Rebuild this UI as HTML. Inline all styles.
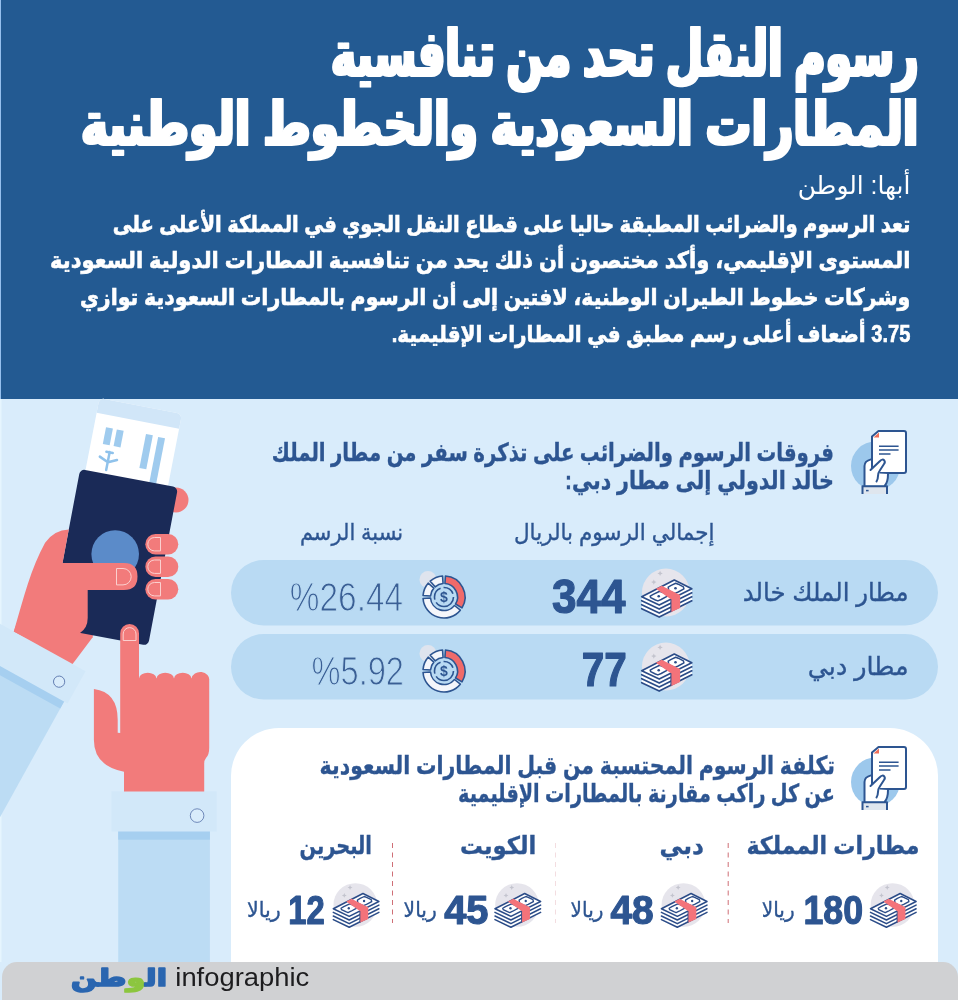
<!DOCTYPE html>
<html lang="ar">
<head>
<meta charset="utf-8">
<title>رسوم النقل تحد من تنافسية المطارات السعودية والخطوط الوطنية</title>
<style>
html,body{margin:0;padding:0;background:#d9ecfb;}
body{width:958px;height:1000px;overflow:hidden;position:relative;}
svg{position:absolute;left:0;top:0;display:block;}
text{font-family:"Liberation Sans","DejaVu Sans",sans-serif;}
.ar{direction:rtl;unicode-bidi:embed;}
.b{font-weight:bold;}
.tb{fill:#2d5591;stroke:#2d5591;stroke-width:0.35px;}
.num{font-family:"Liberation Sans","DejaVu Sans",sans-serif;font-weight:bold;fill:#2d5591;stroke:#2d5591;stroke-width:1.2px;stroke-linejoin:round;}
.thin{font-family:"Liberation Sans","DejaVu Sans",sans-serif;font-weight:normal;fill:#3a5f95;stroke:#b9daf3;stroke-width:1.1px;}
</style>
</head>
<body>
<svg width="958" height="1000" viewBox="0 0 958 1000">
<defs>
<g id="money">
  <circle cx="24.200" cy="12.600" r="24" fill="#e6e5ec"/>
  <path d="M18.400 -9.300l0.800 1.900 1.900 0.800 -1.900 0.800 -0.800 1.900 -0.800-1.900 -1.900-0.800 1.900-0.800z M12.100 -0.600l0.800 1.900 1.900 0.800 -1.900 0.800 -0.800 1.900 -0.800-1.900 -1.900-0.800 1.900-0.800z" fill="#c3c4ce"/>
  <g fill="#ffffff" stroke="#2b4c88" stroke-width="1.700" stroke-linejoin="round">
    <path d="M0 16.700L17.500 25.100V37.100L0 28.700z" stroke="none"/>
    <path d="M17.500 25.100L50.100 8.800V20.800L17.500 37.100z" stroke="none"/>
    <path d="M0 20.700L17.500 29.100L50.100 12.800M0 24.700L17.500 33.100L50.100 16.800M0 28.700L17.500 37.100L50.100 20.800" fill="none" stroke-linecap="round"/>
    <path d="M0 16.700L32.600 0L50.100 8.800L17.500 25.100z"/>
    <path d="M8.500 16.200L11.500 14.400L18 11.300L20.500 12.200L24.700 14.300L25.200 16.400L19.500 19.500L16.200 20.900L13.700 20L9 17.700z" stroke-width="1.500"/>
    <path d="M26.500 7.200L29.500 5.400L34 3.300L36.500 4.200L41.700 6.800L42.200 8.900L36.500 12L33.200 13.400L30.700 12.500L27 10.700z" stroke-width="1.500"/>
  </g>
  <circle cx="17" cy="16.200" r="1.300" fill="#2b4c88"/>
  <circle cx="33.800" cy="8.300" r="1.300" fill="#2b4c88"/>
  <path d="M14.200 8.800L20 5.800L38.400 15V28L29.200 32.200V19.200z" fill="#f4737a"/>
  <path d="M29.200 19.200V32.200" stroke="#2b4c88" stroke-width="1" fill="none"/>
</g>
<g id="pie">
  <circle cx="-16" cy="-17.500" r="8.500" fill="#dfe4ee"/>
  <g stroke="#2d5591" stroke-width="1.600" stroke-linejoin="round">
    <path d="M1.46 -20.95A21 21 0 0 1 18.00 10.82L11.57 6.95A13.5 13.5 0 0 0 0.94 -13.47z" fill="#f06a6a"/>
    <path d="M16.32 13.22A21 21 0 0 1 -20.95 1.46L-13.47 0.94A13.5 13.5 0 0 0 10.49 8.50z" fill="#f4f6fb"/>
    <path d="M-20.95 -1.46A21 21 0 0 1 -15.85 -13.78L-10.19 -8.86A13.5 13.5 0 0 0 -13.47 -0.94z" fill="#f4f6fb"/>
    <path d="M-13.78 -15.85A21 21 0 0 1 -1.46 -20.95L-0.94 -13.47A13.5 13.5 0 0 0 -8.86 -10.19z" fill="#f4f6fb"/>
    <circle r="9.500" fill="none" stroke-dasharray="24 3 14 3 12 3.700"/>
  </g>
  <text x="0" y="5" font-size="14" font-weight="bold" text-anchor="middle" fill="#2d5591" style="font-family:'Liberation Sans',sans-serif">$</text>
</g>
<g id="doc">
  <circle cx="37.500" cy="56" r="24.500" fill="#9cc8ec"/>
  <path d="M34 59.500V26.500L40.500 21H66a2 2 0 0 1 2 2V61a2 2 0 0 1 -2 2H36a2 2 0 0 1 -2-2z" fill="#ffffff" stroke="#2d5591" stroke-width="2" stroke-linejoin="round"/>
  <path d="M35.500 27.500L41 22.500V27.500z" fill="#f0705a"/>
  <path d="M41 36.300H60.600M41 40H60.600M41 44H52.500" stroke="#2d5591" stroke-width="1.500" fill="none"/>
  <path d="M26.500 75.500V56Q26.500 51 33 49.400V59.500L42 51Q44.500 48.500 46.300 50.500Q47.500 52 46 54L41.500 61V63.500L50 64Q50 72 46.900 75.500z" fill="#ffffff"/>
  <path d="M26.500 75.500V56Q26.500 51 33 49.400M32.500 60L42 51Q44.500 48.500 46.300 50.500Q47.500 52 46 54L41.500 61Q40 63 40 66Q40 69 38.500 71.500M50 64Q50 72 46.900 75.500" fill="none" stroke="#2d5591" stroke-width="2" stroke-linecap="round" stroke-linejoin="round"/>
  <path d="M24.500 84V76.300H49V84" fill="#dfe6ee" stroke="#2d5591" stroke-width="2" stroke-linejoin="round"/>
  <path d="M28 80.600H30.600" stroke="#2d5591" stroke-width="1.500"/>
</g>
<filter id="fatx" x="-2%" y="-10%" width="104%" height="120%"><feMorphology operator="dilate" radius="1 0"/></filter>
</defs>
<!-- backgrounds -->
<rect x="0" y="0" width="958" height="1000" fill="#d9ecfb"/>
<rect x="0" y="0" width="958" height="399" fill="#235a92"/>
<rect x="0" y="0" width="1" height="399" fill="#96c0ee"/>
<rect x="0" y="399" width="1.500" height="563" fill="#e6f5fe"/>

<!-- HEADER TEXT -->
<g id="header" fill="#ffffff">
<text class="ar b" x="918.500" y="75.500" font-size="64" textLength="587.500" lengthAdjust="spacingAndGlyphs" stroke="#ffffff" stroke-width="1.800" stroke-linejoin="round" filter="url(#fatx)">رسوم النقل تحد من تنافسية</text>
<text class="ar b" x="918.500" y="144.500" font-size="61" textLength="837.500" lengthAdjust="spacingAndGlyphs" stroke="#ffffff" stroke-width="1.800" stroke-linejoin="round" filter="url(#fatx)">المطارات السعودية والخطوط الوطنية</text>
<text class="ar" x="910.400" y="193.800" font-size="25" textLength="112.700" lengthAdjust="spacingAndGlyphs">أبها: الوطن</text>
<g stroke="#ffffff" stroke-width="0.6">
<text class="ar b" x="910.400" y="231.500" font-size="23" textLength="797.700" lengthAdjust="spacingAndGlyphs">تعد الرسوم والضرائب المطبقة حاليا على قطاع النقل الجوي في المملكة الأعلى على</text>
<text class="ar b" x="910.400" y="268" font-size="23" textLength="860.400" lengthAdjust="spacingAndGlyphs">المستوى الإقليمي، وأكد مختصون أن ذلك يحد من تنافسية المطارات الدولية السعودية</text>
<text class="ar b" x="910.400" y="305" font-size="23" textLength="830.400" lengthAdjust="spacingAndGlyphs">وشركات خطوط الطيران الوطنية، لافتين إلى أن الرسوم بالمطارات السعودية توازي</text>
<text class="ar b" x="910.400" y="341.600" font-size="23" textLength="518.700" lengthAdjust="spacingAndGlyphs">3.75 أضعاف أعلى رسم مطبق في المطارات الإقليمية.</text>
</g>
</g>
<!--HANDS-->
<g id="hands">
<!-- left sleeve -->
<g transform="translate(13.8,631.4) rotate(29)">
  <!-- local coords: x along wrist edge (to the right-down), y pointing down-left along the arm -->
  <rect x="-14" y="36" width="92" height="400" fill="#bcdcf4"/>
  <rect x="-14" y="36" width="92" height="9" fill="#a6cff0"/>
  <rect x="-30" y="0" width="112" height="37" fill="#d2e8f9"/>
  <circle cx="64" cy="22" r="5.6" fill="#d9ecfb" stroke="#5470a8" stroke-width="0.8"/>
</g>
<!-- ticket -->
<g transform="translate(99.500,398) rotate(11)">
  <rect x="0" y="0" width="84" height="90" rx="5" fill="#ffffff"/>
  <path d="M0 15V5a5 5 0 0 1 5-5h74a5 5 0 0 1 5 5v10z" fill="#d1e6f8"/>
  <rect x="12" y="27.500" width="7" height="17" fill="#9fcbee"/>
  <rect x="23" y="27.500" width="7" height="17" fill="#9fcbee"/>
  <rect x="52.500" y="26.500" width="7" height="34.500" fill="#9fcbee"/>
  <rect x="65" y="27" width="7" height="50" fill="#9fcbee"/>
  <path d="M20.300 51v18.500M20.500 61.500l-9-4M20.500 61.500l8.500-4M17 51.500h6.500" stroke="#8fc2eb" stroke-width="2.500" fill="none" stroke-linecap="round"/>
</g>
<!-- index fingertip behind passport (top right) -->
<circle cx="176" cy="500" r="12.5" fill="#f27b7b"/>
<!-- palm behind passport -->
<path d="M13.800 631.400L72.600 664.100L92.700 637.300L96 600L40 560Z" fill="#f27b7b"/>
<!-- passport -->
<g transform="translate(80.2,469) rotate(10.7)">
  <rect x="0" y="0" width="99.5" height="161" rx="5" fill="#1a2a57"/>
</g>
<circle cx="115.2" cy="554.1" r="23.8" fill="#5b8bc9"/>
<!-- left hand -->
<path d="M68.800 529.500L62.600 563L124 563Q137.500 563 137.500 576.500Q137.500 590 124 590L87.700 590L87.700 618Q87.700 628 79.700 633.300L60 655L13.800 631.400C24 597 31 568 45.100 542.800Q54 530 68.800 529.500Z" fill="#f27b7b"/>
<path d="M116.5 568.5h6.5a8.2 8.2 0 0 1 0 16.4h-6.5z" fill="none" stroke="#fbd0cf" stroke-width="1"/>
<!-- fingers right of passport -->
<rect x="145.3" y="534" width="33" height="20.5" rx="10.2" fill="#f27b7b"/>
<rect x="145.3" y="556.5" width="33" height="20.5" rx="10.2" fill="#f27b7b"/>
<rect x="145.3" y="579" width="33" height="20.5" rx="10.2" fill="#f27b7b"/>
<path d="M160.500 537.5h-6a6.700 6.700 0 0 0 0 13.400h6z" fill="none" stroke="#fbd0cf" stroke-width="1"/>
<path d="M160.500 560h-6a6.700 6.700 0 0 0 0 13.400h6z" fill="none" stroke="#fbd0cf" stroke-width="1"/>
<path d="M160.500 582.5h-6a6.700 6.700 0 0 0 0 13.400h6z" fill="none" stroke="#fbd0cf" stroke-width="1"/>
<!-- right sleeve -->
<rect x="118.2" y="831" width="91.700" height="131" fill="#bcdcf4"/>
<rect x="118.2" y="831" width="91.700" height="8.700" fill="#a6cff0"/>
<rect x="111.5" y="791.3" width="105.2" height="40.200" fill="#d2e8f9"/>
<circle cx="197.1" cy="815.6" r="6.800" fill="#d9ecfb" stroke="#5470a8" stroke-width="0.8"/>
<!-- right hand -->
<path d="M120.200 633.400a9.400 9.400 0 0 1 18.800 0V678.500a8.800 6.500 0 0 1 17.500 0a8.800 6.500 0 0 1 17.500 0a8.800 6.500 0 0 1 17.500 0a8.900 7.500 0 0 1 17.700 2V748Q209.200 755 206 758Q204.200 760 204.200 764V791.500H124V771.700Q93.900 766 93.900 740V689Q117.700 692 117.700 720V732.800L120.200 733Z" fill="#f27b7b"/>
<path d="M123.200 640.500v-6.500a6.400 6.400 0 0 1 12.800 0v6.500z" fill="none" stroke="#fbd0cf" stroke-width="1"/>
</g>
<!--SECTION1-->
<g id="sec1">
<use href="#doc" x="838" y="410"/>
<text class="ar b tb" x="834" y="460.500" font-size="25" textLength="562.200" lengthAdjust="spacingAndGlyphs">فروقات الرسوم والضرائب على تذكرة سفر من مطار الملك</text>
<text class="ar b tb" x="834" y="488.500" font-size="25" textLength="269" lengthAdjust="spacingAndGlyphs">خالد الدولي إلى مطار دبي:</text>
<text class="ar tb" x="714.500" y="540" font-size="23" textLength="200.500" lengthAdjust="spacingAndGlyphs">إجمالي الرسوم بالريال</text>
<text class="ar tb" x="403.200" y="540" font-size="23" textLength="103.300" lengthAdjust="spacingAndGlyphs">نسبة الرسم</text>
<rect x="231" y="560" width="707" height="65.500" rx="32.750" fill="#b9daf3"/>
<rect x="231" y="634" width="707" height="65.500" rx="32.750" fill="#b9daf3"/>
<text class="ar tb" x="908.700" y="600.500" font-size="25.500" textLength="166" lengthAdjust="spacingAndGlyphs">مطار الملك خالد</text>
<text class="ar tb" x="908.700" y="675" font-size="25.500" textLength="101" lengthAdjust="spacingAndGlyphs">مطار دبي</text>
<use href="#money" x="641.700" y="580"/>
<use href="#money" x="641.700" y="654"/>
<text class="num" x="552" y="612.600" font-size="47.500" textLength="73.500" lengthAdjust="spacingAndGlyphs">344</text>
<text class="num" x="581.700" y="686" font-size="47.500" textLength="45.100" lengthAdjust="spacingAndGlyphs">77</text>
<use href="#pie" x="444" y="597"/>
<use href="#pie" x="444" y="671"/>
<text class="thin" x="289.800" y="610.800" font-size="41" textLength="113.300" lengthAdjust="spacingAndGlyphs">%26.44</text>
<text class="thin" x="311.500" y="684.800" font-size="41" textLength="92.500" lengthAdjust="spacingAndGlyphs">%5.92</text>
</g>
<!--SECTION2-->
<g id="sec2">
<path d="M231 962V776a48 48 0 0 1 48-48H890a48 48 0 0 1 48 48V962z" fill="#ffffff"/>
<use href="#doc" x="838" y="726"/>
<text class="ar b tb" x="835" y="773.500" font-size="25" textLength="515.400" lengthAdjust="spacingAndGlyphs">تكلفة الرسوم المحتسبة من قبل المطارات السعودية</text>
<text class="ar b tb" x="835" y="801.500" font-size="25" textLength="377" lengthAdjust="spacingAndGlyphs">عن كل راكب مقارنة بالمطارات الإقليمية</text>
<path d="M555.500 843V923" stroke="#f3dde0" stroke-width="1" stroke-dasharray="5 4.500" fill="none"/>
<path d="M392.500 843V923M728.200 843V923" stroke="#cf6f76" stroke-width="1" stroke-dasharray="5 4.500" fill="none"/>
<text class="ar b tb" x="919.400" y="853.500" font-size="24.500" stroke="#2d5591" stroke-width="0.700" textLength="173" lengthAdjust="spacingAndGlyphs">مطارات المملكة</text>
<text class="ar b tb" x="703.900" y="853.500" font-size="24.500" stroke="#2d5591" stroke-width="0.700" textLength="44.400" lengthAdjust="spacingAndGlyphs">دبي</text>
<text class="ar b tb" x="536.300" y="853.500" font-size="24.500" stroke="#2d5591" stroke-width="0.700" textLength="76.300" lengthAdjust="spacingAndGlyphs">الكويت</text>
<text class="ar b tb" x="372" y="853.500" font-size="24.500" stroke="#2d5591" stroke-width="0.700" textLength="72.500" lengthAdjust="spacingAndGlyphs">البحرين</text>
<use href="#money" transform="translate(870.500,893.500) scale(0.91)"/>
<use href="#money" transform="translate(661.400,893.500) scale(0.91)"/>
<use href="#money" transform="translate(495,893.500) scale(0.91)"/>
<use href="#money" transform="translate(333.300,893.500) scale(0.91)"/>
<text class="num" x="803.500" y="923.500" font-size="40.500" textLength="59.500" lengthAdjust="spacingAndGlyphs">180</text>
<text class="num" x="610.400" y="923.500" font-size="40.500" textLength="43.300" lengthAdjust="spacingAndGlyphs">48</text>
<text class="num" x="444.200" y="923.500" font-size="40.500" textLength="44.300" lengthAdjust="spacingAndGlyphs">45</text>
<text class="num" x="288.200" y="923.500" font-size="40.500" textLength="36.500" lengthAdjust="spacingAndGlyphs">12</text>
<text class="ar tb" x="794.600" y="917" font-size="21" textLength="32.800" lengthAdjust="spacingAndGlyphs">ريالا</text>
<text class="ar tb" x="603.400" y="917" font-size="21" textLength="32.800" lengthAdjust="spacingAndGlyphs">ريالا</text>
<text class="ar tb" x="436.700" y="917" font-size="21" textLength="33.100" lengthAdjust="spacingAndGlyphs">ريالا</text>
<text class="ar tb" x="280.700" y="917" font-size="21" textLength="33.700" lengthAdjust="spacingAndGlyphs">ريالا</text>
</g>
<!--FOOTER-->
<g id="footer">
<path d="M2 1000V977a15 15 0 0 1 15-15H943a15 15 0 0 1 15 15V1000z" fill="#d0d1d3"/>
<text class="ar b" x="167" y="985.500" font-size="23.500" textLength="96" lengthAdjust="spacingAndGlyphs" fill="#2a66b0" stroke="#2a66b0" stroke-width="1.700" stroke-linejoin="round">ال<tspan fill="#8cc63f" stroke="#8cc63f">و</tspan>طن</text>
<text x="175.300" y="986" font-size="26" textLength="134" lengthAdjust="spacingAndGlyphs" fill="#1d1d1f">infographic</text>
</g>
</svg>
</body>
</html>
